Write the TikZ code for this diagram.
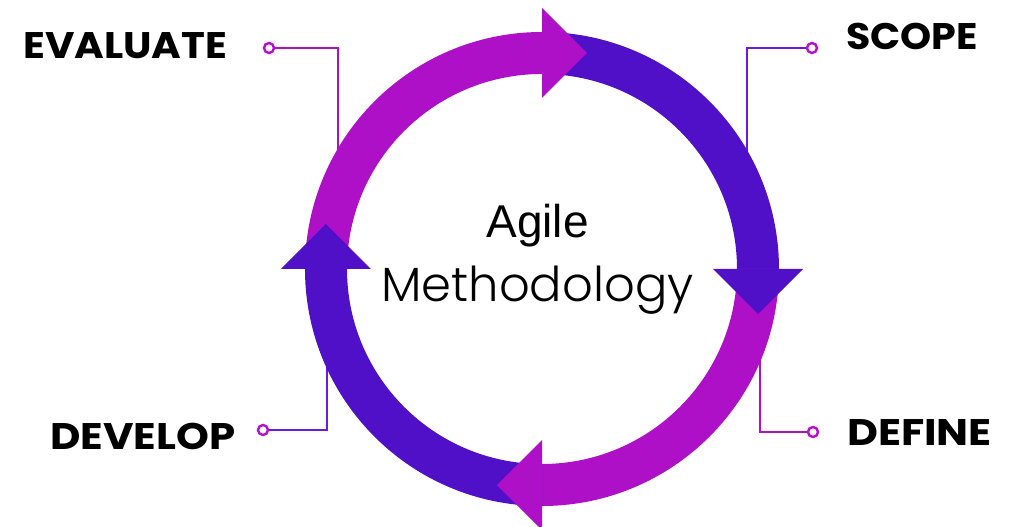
\documentclass[tikz,border=0pt]{standalone}
\usepackage{fontspec}
\newfontfamily\lblfont{Poppins}
\newfontfamily\lightfont{Poppins Light}
\newfontfamily\arialfont{Liberation Sans}
\definecolor{mag}{HTML}{AE10C8}
\definecolor{blu}{HTML}{5010C8}
\definecolor{leadblu}{HTML}{6A1BE0}
\definecolor{dotmag}{HTML}{B40FD2}
\tikzset{
  lbl/.style={font=\lblfont\bfseries\fontsize{37}{37}\selectfont, inner sep=0pt, anchor=base west},
  lead/.style={line width=1.4pt},
  dot/.style={draw=dotmag, fill=white, line width=2.4pt, circle, minimum size=10pt, inner sep=0pt},
}
\begin{document}
\begin{tikzpicture}[x=1pt,y=1pt]
\useasboundingbox (-542,-258) rectangle (467,269);
% leader lines
\coordinate (evE) at (-204,110);
\coordinate (scE) at (205,110);
\coordinate (deE) at (218,-80);
\coordinate (dvE) at (-215,-90);
\node[dot] (evD) at (-273,221) {};
\node[dot] (scD) at (270,221) {};
\node[dot] (deD) at (271,-163) {};
\node[dot] (dvD) at (-279,-161) {};
\draw[lead, draw=mag] (evD.east) -| (evE);
\draw[lead, draw=leadblu] (scD.west) -| (scE);
\draw[lead, draw=mag] (deD.west) -| (deE);
\draw[lead, draw=leadblu] (dvD.east) -| (dvE);
% ring segments
\fill[mag] (180:237) arc[start angle=180, end angle=90, radius=237] -- (90:195) arc[start angle=90, end angle=180, radius=195] -- cycle;
\fill[blu] (90:237) arc[start angle=90, end angle=0, radius=237] -- (0:195) arc[start angle=0, end angle=90, radius=195] -- cycle;
\fill[mag] (0:237) arc[start angle=0, end angle=-90, radius=237] -- (-90:195) arc[start angle=-90, end angle=0, radius=195] -- cycle;
\fill[blu] (-90:237) arc[start angle=-90, end angle=-180, radius=237] -- (-180:195) arc[start angle=-180, end angle=-90, radius=195] -- cycle;
% arrow heads
\fill[mag] (0,261) -- (45,216) -- (0,171) -- cycle;
\fill[blu] (261,0) -- (216,-45) -- (171,0) -- cycle;
\fill[mag] (0,-261) -- (-45,-216) -- (0,-171) -- cycle;
\fill[blu] (-261,0) -- (-216,45) -- (-171,0) -- cycle;
% labels
\node[lbl] (ev) at (-519,210) {\scalebox{1.09}[1]{EVALUATE}};
\node[lbl] (sc) at (304,219) {\scalebox{1.07}[1]{SCOPE}};
\node[lbl] (dv) at (-492,-180) {\scalebox{1.13}[1]{DEVELOP}};
\node[lbl] (de) at (305,-176) {\scalebox{1.15}[1]{DEFINE}};
\node[inner sep=0pt, anchor=base, font=\arialfont\fontsize{46}{46}\selectfont] (ag) at (-4.5,31) {Agile};
\node[inner sep=0pt, anchor=base, font=\lightfont\fontsize{48}{48}\selectfont] (me) at (-4.5,-33) {Methodology};
\end{tikzpicture}
\end{document}
